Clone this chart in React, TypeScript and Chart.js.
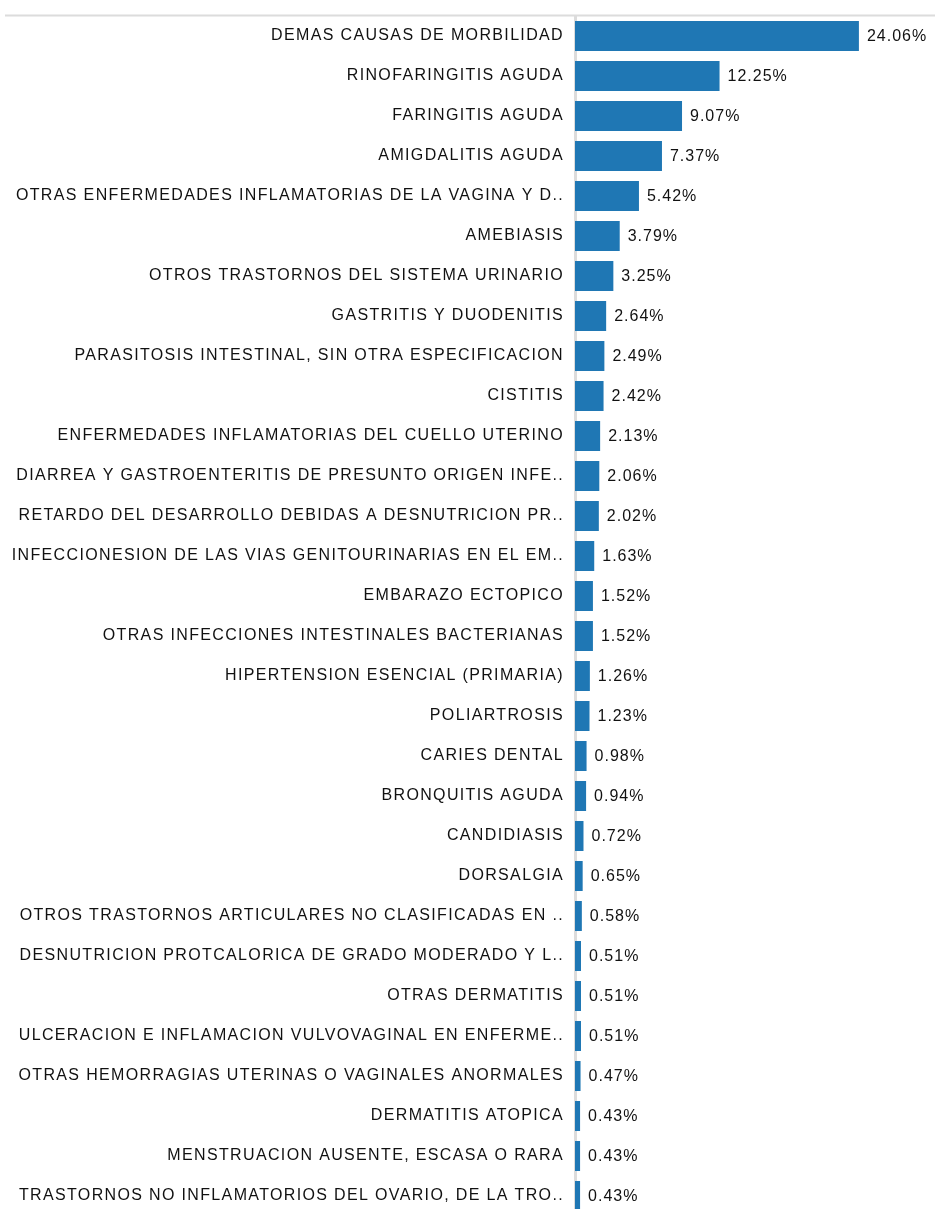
import React, { useEffect, useRef } from "react";
import { Chart, registerables } from "chart.js";

Chart.register(...registerables);

const categories: string[] = [
  "DEMAS CAUSAS DE MORBILIDAD",
  "RINOFARINGITIS AGUDA",
  "FARINGITIS AGUDA",
  "AMIGDALITIS AGUDA",
  "OTRAS ENFERMEDADES INFLAMATORIAS DE LA VAGINA Y D..",
  "AMEBIASIS",
  "OTROS TRASTORNOS DEL SISTEMA URINARIO",
  "GASTRITIS Y DUODENITIS",
  "PARASITOSIS INTESTINAL, SIN OTRA ESPECIFICACION",
  "CISTITIS",
  "ENFERMEDADES INFLAMATORIAS DEL CUELLO UTERINO",
  "DIARREA Y GASTROENTERITIS DE PRESUNTO ORIGEN INFE..",
  "RETARDO DEL DESARROLLO DEBIDAS A DESNUTRICION PR..",
  "INFECCIONESION DE LAS VIAS GENITOURINARIAS EN EL EM..",
  "EMBARAZO ECTOPICO",
  "OTRAS INFECCIONES INTESTINALES BACTERIANAS",
  "HIPERTENSION ESENCIAL (PRIMARIA)",
  "POLIARTROSIS",
  "CARIES DENTAL",
  "BRONQUITIS AGUDA",
  "CANDIDIASIS",
  "DORSALGIA",
  "OTROS TRASTORNOS ARTICULARES NO CLASIFICADAS EN ..",
  "DESNUTRICION PROTCALORICA DE GRADO MODERADO Y L..",
  "OTRAS DERMATITIS",
  "ULCERACION E INFLAMACION VULVOVAGINAL EN ENFERME..",
  "OTRAS HEMORRAGIAS UTERINAS O VAGINALES ANORMALES",
  "DERMATITIS ATOPICA",
  "MENSTRUACION AUSENTE, ESCASA O RARA",
  "TRASTORNOS NO INFLAMATORIOS DEL OVARIO, DE LA TRO..",
];

const percentages: number[] = [
  24.06, 12.25, 9.07, 7.37, 5.42, 3.79, 3.25, 2.64, 2.49, 2.42, 2.13, 2.06,
  2.02, 1.63, 1.52, 1.52, 1.26, 1.23, 0.98, 0.94, 0.72, 0.65, 0.58, 0.51,
  0.51, 0.51, 0.47, 0.43, 0.43, 0.43,
];

const FONT_FAMILY = "'Liberation Sans', Arial, sans-serif";
const FONT_SIZE = 16;
const TEXT_COLOR = "#111111";
const SPACING = "1.35px";

export default function App() {
  const canvasRef = useRef<HTMLCanvasElement | null>(null);

  useEffect(() => {
    const canvas = canvasRef.current;
    if (!canvas) return;

    const spacingPlugin = {
      id: "spacing",
      beforeUpdate(chart: any) {
        (chart.ctx as any).letterSpacing = SPACING;
      },
      beforeDraw(chart: any) {
        (chart.ctx as any).letterSpacing = SPACING;
      },
    };

    const decorPlugin = {
      id: "decor",
      beforeDatasetsDraw(chart: any) {
        const ctx = chart.ctx;
        ctx.save();
        ctx.strokeStyle = "#dcdcdc";
        ctx.lineWidth = 2;
        ctx.beginPath();
        ctx.moveTo(5, 15.5);
        ctx.lineTo(chart.width, 15.5);
        ctx.stroke();
        ctx.restore();
      },
      afterDatasetsDraw(chart: any) {
        const ctx = chart.ctx;
        const meta = chart.getDatasetMeta(0);
        const data = chart.data.datasets[0].data as number[];
        ctx.save();
        (ctx as any).letterSpacing = "1px";
        ctx.font = `${FONT_SIZE}px ${FONT_FAMILY}`;
        ctx.fillStyle = TEXT_COLOR;
        ctx.textAlign = "left";
        ctx.textBaseline = "middle";
        meta.data.forEach((bar: any, i: number) => {
          ctx.fillText(data[i].toFixed(2) + "%", bar.x + 8, bar.y + 1);
        });
        ctx.restore();
      },
    };

    const chart = new Chart(canvas, {
      type: "bar",
      data: {
        labels: categories,
        datasets: [
          {
            data: percentages,
            backgroundColor: "#1f77b4",
            borderWidth: 0,
            categoryPercentage: 1,
            barPercentage: 0.75,
          },
        ],
      },
      options: {
        indexAxis: "y",
        responsive: false,
        animation: false,
        layout: { padding: { top: 16, right: 6, bottom: 0, left: 0 } },
        plugins: {
          legend: { display: false },
          tooltip: { enabled: false },
          title: { display: false },
        },
        scales: {
          x: {
            display: false,
            min: 0,
            max: 30,
          },
          y: {
            grid: { display: false, drawTicks: false },
            border: { display: true, color: "#dcdcdc", width: 3 },
            ticks: {
              color: TEXT_COLOR,
              font: { family: FONT_FAMILY, size: FONT_SIZE },
              padding: 11,
              autoSkip: false,
            },
            afterFit(scale: any) {
              scale.width = 575;
              scale.paddingTop = 0;
              scale.paddingBottom = 0;
            },
          },
        },
      },
      plugins: [spacingPlugin, decorPlugin],
    });

    return () => chart.destroy();
  }, []);

  return (
    <div
      style={{
        position: "fixed",
        left: 0,
        top: 0,
        width: 935,
        height: 1209,
        overflow: "hidden",
        background: "#fff",
      }}
    >
      <canvas ref={canvasRef} width={935} height={1216} />
    </div>
  );
}
